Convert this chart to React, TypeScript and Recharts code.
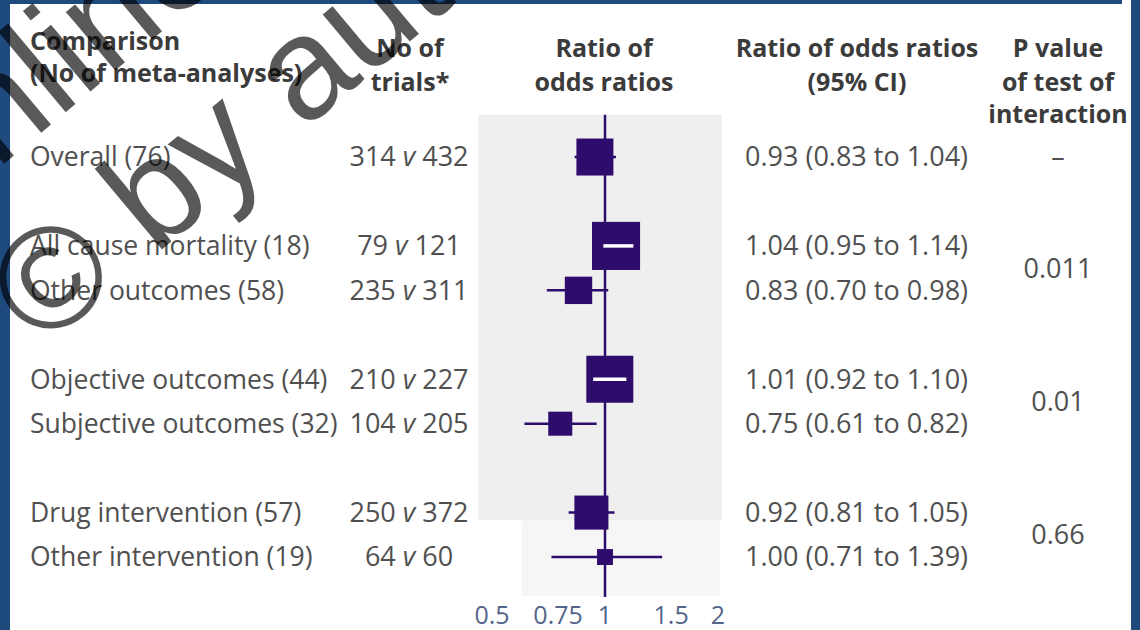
import React from "react";
import {
  ScatterChart,
  Scatter,
  XAxis,
  YAxis,
  ErrorBar,
  ReferenceLine,
  ReferenceArea,
} from "recharts";

// rows of the forest plot
const comparisons = [
  "Overall (76)",
  "All cause mortality (18)",
  "Other outcomes (58)",
  "Objective outcomes (44)",
  "Subjective outcomes (32)",
  "Drug intervention (57)",
  "Other intervention (19)",
];
const trialsA = [314, 79, 235, 210, 104, 250, 64];
const trialsB = [432, 121, 311, 227, 205, 372, 60];
const ciLabels = [
  "0.93 (0.83 to 1.04)",
  "1.04 (0.95 to 1.14)",
  "0.83 (0.70 to 0.98)",
  "1.01 (0.92 to 1.10)",
  "0.75 (0.61 to 0.82)",
  "0.92 (0.81 to 1.05)",
  "1.00 (0.71 to 1.39)",
];
// point estimates and limits as drawn
const estimate = [0.94, 1.07, 0.85, 1.03, 0.76, 0.92, 1.0];
const lower = [0.83, 0.99, 0.7, 0.93, 0.61, 0.8, 0.72];
const upper = [1.07, 1.19, 1.02, 1.14, 0.95, 1.06, 1.42];
const weight = [1.0, 1.3, 0.74, 1.27, 0.65, 0.92, 0.43];
const rowPos = [0, 2, 3, 5, 6, 8, 9];

const pValues = ["–", "0.011", "0.01", "0.66"];
const pValuePos = [0, 2.5, 5.5, 8.5];

const headComparison = ["Comparison", "(No of meta-analyses)"];
const headComparisonPos = [-2.6, -1.88];
const headTrials = ["No of", "trials*"];
const headPlot = ["Ratio of", "odds ratios"];
const headCI = ["Ratio of odds ratios", "(95% CI)"];
const headP = ["P value", "of test of", "interaction"];
const headPos = [-2.45, -1.69, -0.97];

const xTicks = [0.5, 0.75, 1, 1.5, 2];

const FONT = "'Open Sans', 'Noto Sans', sans-serif";
const TEXT = "#505050";
const HEAD = "#3b3b3b";
const MARK = "#2e0c6c";
const BORDER = "#1f4a7e";

const forest = rowPos.map((y, i) => ({
  x: estimate[i],
  y,
  err: [estimate[i] - lower[i], upper[i] - estimate[i]],
  w: weight[i],
}));
// a CI that sits wholly inside its box is shown as a white dash
const BOX = 37;
const LOG_PX = 163;
const innerRows = rowPos
  .map((_, i) => i)
  .filter(
    (i) => (Math.log(upper[i]) - Math.log(lower[i])) * LOG_PX < weight[i] * BOX - 4
  );

const textRows = (labels: string[], pos: number[]) =>
  labels.map((text, i) => ({ x: 1, y: pos[i], text }));

const textShape =
  (x: number, anchor: "start" | "middle" | "end", size: number, bold = false) =>
  (props: any) => (
    <text
      x={x}
      y={props.cy}
      dy="0.35em"
      textAnchor={anchor}
      fontFamily={FONT}
      fontSize={size}
      fontWeight={bold ? 700 : 400}
      fill={bold ? HEAD : TEXT}
    >
      {props.payload.text}
    </text>
  );

const trialsShape = (props: any) => (
  <text
    x={409}
    y={props.cy}
    dy="0.35em"
    textAnchor="middle"
    fontFamily={FONT}
    fontSize={27}
    fill={TEXT}
  >
    {props.payload.a} <tspan fontStyle="italic">v</tspan>
    {" " + props.payload.b}
  </text>
);

const boxShape = (props: any) => {
  const s = props.payload.w * BOX;
  return (
    <rect
      x={props.cx - s / 2}
      y={props.cy - s / 2}
      width={s}
      height={s}
      fill={MARK}
    />
  );
};

const noShape = () => <g />;

export default function App() {
  return (
    <div
      style={{
        position: "absolute",
        left: 0,
        top: 0,
        width: 1140,
        height: 630,
        background: "#fff",
        overflow: "hidden",
      }}
    >
      <ScatterChart
        width={1140}
        height={630}
        margin={{ top: 0, right: 422, bottom: 0, left: 492 }}
      >
        <XAxis
          type="number"
          dataKey="x"
          scale="log"
          domain={[0.5, 2]}
          ticks={xTicks}
          interval={0}
          axisLine={false}
          tickLine={false}
          tickMargin={0}
          height={30}
          tick={{ fill: "#55648a", fontSize: 25, fontFamily: FONT }}
        />
        <YAxis type="number" dataKey="y" domain={[-3.533, 9.967]} reversed hide />
        <ReferenceArea
          x1={0.46}
          x2={2.05}
          y1={-0.95}
          y2={8.17}
          fill="#efefef"
          fillOpacity={1}
          stroke="none"
          ifOverflow="visible"
        />
        <ReferenceArea
          x1={0.6}
          x2={2.02}
          y1={8.17}
          y2={9.88}
          fill="#f6f6f6"
          fillOpacity={1}
          stroke="none"
          ifOverflow="visible"
        />
        <ReferenceLine
          segment={[
            { x: 1, y: -0.95 },
            { x: 1, y: 9.9 },
          ]}
          stroke={MARK}
          strokeWidth={2.5}
          ifOverflow="visible"
        />
        <Scatter data={forest} shape={boxShape} isAnimationActive={false}>
          <ErrorBar
            dataKey="err"
            direction="x"
            width={0}
            stroke={MARK}
            strokeWidth={2.5}
            isAnimationActive={false}
          />
        </Scatter>
        {innerRows.map((i) => (
          <Scatter
            key={"ci" + i}
            data={[
              { x: lower[i], y: rowPos[i] },
              { x: upper[i], y: rowPos[i] },
            ]}
            line={{ stroke: "#ffffff", strokeWidth: 3.5 }}
            shape={noShape}
            isAnimationActive={false}
          />
        ))}
        <Scatter
          data={textRows(comparisons, rowPos)}
          shape={textShape(30, "start", 26.5)}
          isAnimationActive={false}
        />
        <Scatter
          data={rowPos.map((y, i) => ({ x: 1, y, a: trialsA[i], b: trialsB[i] }))}
          shape={trialsShape}
          isAnimationActive={false}
        />
        <Scatter
          data={textRows(ciLabels, rowPos)}
          shape={textShape(745, "start", 27)}
          isAnimationActive={false}
        />
        <Scatter
          data={textRows(pValues, pValuePos)}
          shape={textShape(1058, "middle", 27)}
          isAnimationActive={false}
        />
        <Scatter
          data={textRows(headComparison, headComparisonPos)}
          shape={textShape(30, "start", 25, true)}
          isAnimationActive={false}
        />
        <Scatter
          data={textRows(headTrials, headPos)}
          shape={textShape(410, "middle", 25, true)}
          isAnimationActive={false}
        />
        <Scatter
          data={textRows(headPlot, headPos)}
          shape={textShape(604, "middle", 25, true)}
          isAnimationActive={false}
        />
        <Scatter
          data={textRows(headCI, headPos)}
          shape={textShape(857, "middle", 25, true)}
          isAnimationActive={false}
        />
        <Scatter
          data={textRows(headP, headPos)}
          shape={textShape(1058, "middle", 25, true)}
          isAnimationActive={false}
        />
      </ScatterChart>
      <svg
        width={1140}
        height={630}
        style={{ position: "absolute", left: 0, top: 0, pointerEvents: "none" }}
      >
        <rect x={0} y={0} width={10} height={630} fill={BORDER} />
        <rect x={0} y={0} width={1122} height={4} fill={BORDER} />
        <rect x={1131} y={0} width={9} height={630} fill={BORDER} />
        <g
          transform="translate(42,350) rotate(-40)"
          fill="rgba(0,0,0,0.65)"
          fontFamily="'Liberation Sans', Arial, sans-serif"
          fontSize={145}
        >
          <text x={0} y={-167}>online</text>
          <text x={0} y={0}>© by author</text>
        </g>
      </svg>
    </div>
  );
}
